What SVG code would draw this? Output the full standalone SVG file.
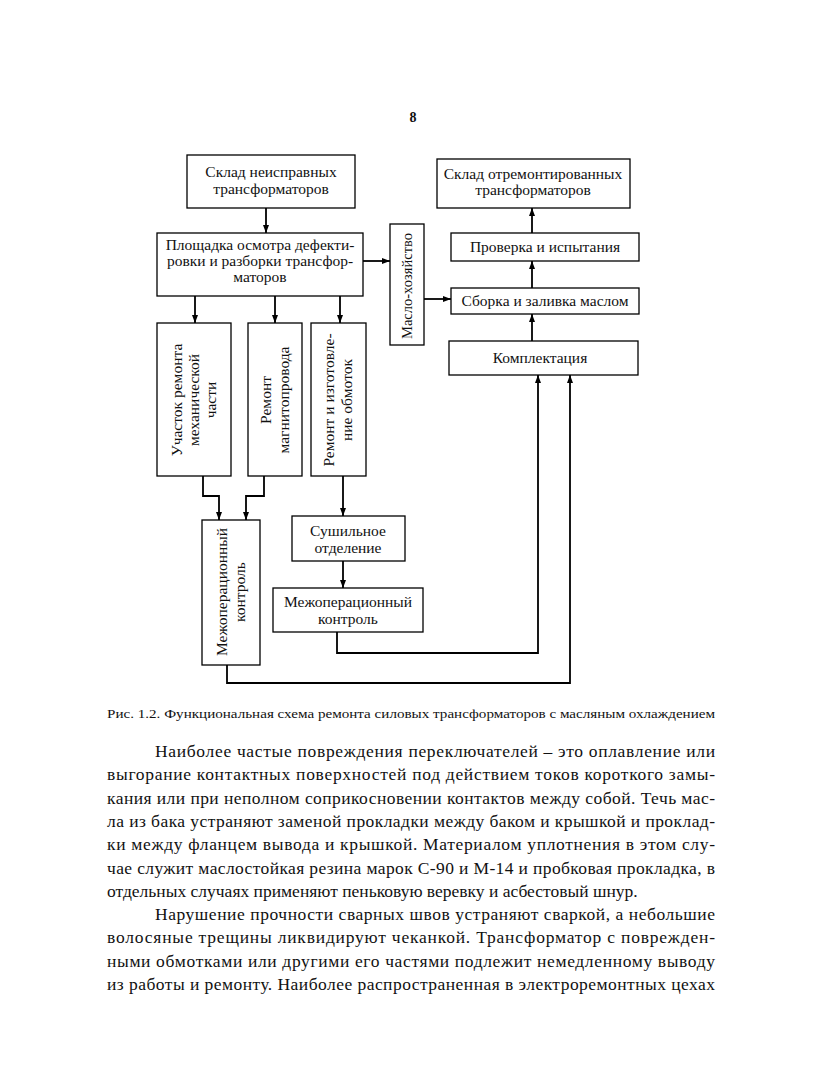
<svg xmlns="http://www.w3.org/2000/svg" width="825" height="1080" viewBox="0 0 825 1080">
<style>
.box{fill:#fff;stroke:#000;stroke-width:1.3}
.t{font-family:"Liberation Serif","Times New Roman",serif;font-size:15.5px;fill:#111;text-anchor:middle}
.c{fill:none;stroke:#000;stroke-width:1.8}
.body{font-family:"Liberation Serif","Times New Roman",serif;font-size:17.5px;fill:#111}
.cap{font-family:"Liberation Serif","Times New Roman",serif;font-size:13px;fill:#111}
</style>
<defs>
<marker id="ah" markerUnits="userSpaceOnUse" markerWidth="8" markerHeight="6" refX="8" refY="3" orient="auto">
<path d="M0,0 L8,3 L0,6 z" fill="#000"/>
</marker>
</defs>
<rect width="825" height="1080" fill="#fff"/>
<text x="413" y="122" class="t" style="font-weight:bold;font-size:14px">8</text>

<g id="connectors">
<path class="c" d="M266,208 V233" marker-end="url(#ah)"/>
<path class="c" d="M363,261 H390" marker-end="url(#ah)"/>
<path class="c" d="M424,299 H451" marker-end="url(#ah)"/>
<path class="c" d="M532,288 V261" marker-end="url(#ah)"/>
<path class="c" d="M532,233 V208" marker-end="url(#ah)"/>
<path class="c" d="M532,341 V314" marker-end="url(#ah)"/>
<path class="c" d="M195,296 V323" marker-end="url(#ah)"/>
<path class="c" d="M275,296 V323" marker-end="url(#ah)"/>
<path class="c" d="M340,296 V323" marker-end="url(#ah)"/>
<path class="c" d="M203,476 V496 H219 V520" marker-end="url(#ah)"/>
<path class="c" d="M264,476 V496 H246 V520" marker-end="url(#ah)"/>
<path class="c" d="M343,476 V516" marker-end="url(#ah)"/>
<path class="c" d="M343,561 V588" marker-end="url(#ah)"/>
<path class="c" d="M337,632 V653 H538 V375" marker-end="url(#ah)"/>
<path class="c" d="M227,665 V683 H570 V375" marker-end="url(#ah)"/>
</g>

<g id="sklad-neispr">
<rect class="box" x="187" y="155" width="168" height="53"/>
<text class="t" x="271" y="177">Склад неисправных</text>
<text class="t" x="271" y="194">трансформаторов</text>
</g>

<g id="ploshchadka">
<rect class="box" x="157" y="233" width="206" height="63"/>
<text class="t" x="260" y="250">Площадка осмотра дефекти-</text>
<text class="t" x="260" y="266">ровки и разборки трансфор-</text>
<text class="t" x="260" y="282">маторов</text>
</g>

<g id="maslo">
<rect class="box" x="390" y="224" width="34" height="121"/>
<text class="t" transform="translate(407,286) rotate(-90)" x="0" y="5" style="font-size:14.5px">Масло-хозяйство</text>
</g>

<g id="sklad-otrem">
<rect class="box" x="437" y="159" width="193" height="49"/>
<text class="t" x="533" y="179">Склад отремонтированных</text>
<text class="t" x="533" y="195">трансформаторов</text>
</g>

<g id="proverka">
<rect class="box" x="451" y="233" width="188" height="28"/>
<text class="t" x="545" y="252">Проверка и испытания</text>
</g>

<g id="sborka">
<rect class="box" x="451" y="288" width="188" height="26"/>
<text class="t" x="545" y="306">Сборка и заливка маслом</text>
</g>

<g id="komplektaciya">
<rect class="box" x="449" y="341" width="189" height="34"/>
<text class="t" x="540" y="363">Комплектация</text>
</g>

<g id="uchastok">
<rect class="box" x="157" y="323" width="74" height="153"/>
<g transform="translate(194,400) rotate(-90)">
<text class="t" x="0" y="-12">Участок ремонта</text>
<text class="t" x="0" y="5">механической</text>
<text class="t" x="0" y="22">части</text>
</g>
</g>

<g id="magnitoprovod">
<rect class="box" x="248" y="323" width="54" height="153"/>
<g transform="translate(275,400) rotate(-90)">
<text class="t" x="0" y="-4">Ремонт</text>
<text class="t" x="0" y="14">магнитопровода</text>
</g>
</g>

<g id="obmotki">
<rect class="box" x="311" y="323" width="55" height="153"/>
<g transform="translate(338,400) rotate(-90)">
<text class="t" x="0" y="-4">Ремонт и изготовле-</text>
<text class="t" x="0" y="14">ние обмоток</text>
</g>
</g>

<g id="mezhop-v">
<rect class="box" x="202" y="520" width="58" height="145"/>
<g transform="translate(231,592) rotate(-90)">
<text class="t" x="0" y="-4">Межоперационный</text>
<text class="t" x="0" y="14">контроль</text>
</g>
</g>

<g id="sushilnoe">
<rect class="box" x="292" y="516" width="113" height="45"/>
<text class="t" x="348" y="536">Сушильное</text>
<text class="t" x="348" y="553">отделение</text>
</g>

<g id="mezhop-h">
<rect class="box" x="273" y="588" width="150" height="44"/>
<text class="t" x="348" y="607">Межоперационный</text>
<text class="t" x="348" y="624">контроль</text>
</g>

<text class="cap" x="107" y="718" textLength="608" lengthAdjust="spacingAndGlyphs">Рис. 1.2. Функциональная схема ремонта силовых трансформаторов с масляным охлаждением</text>

<g class="body">
<text x="155" y="757" textLength="560" lengthAdjust="spacing">Наиболее частые повреждения переключателей – это оплавление или</text>
<text x="107" y="780" textLength="608" lengthAdjust="spacing">выгорание контактных поверхностей под действием токов короткого замы-</text>
<text x="107" y="804" textLength="608" lengthAdjust="spacing">кания или при неполном соприкосновении контактов между собой. Течь мас-</text>
<text x="107" y="827" textLength="608" lengthAdjust="spacing">ла из бака устраняют заменой прокладки между баком и крышкой и проклад-</text>
<text x="107" y="850" textLength="608" lengthAdjust="spacing">ки между фланцем вывода и крышкой. Материалом уплотнения в этом слу-</text>
<text x="107" y="874" textLength="608" lengthAdjust="spacing">чае служит маслостойкая резина марок С-90 и М-14 и пробковая прокладка, в</text>
<text x="107" y="897">отдельных случаях применяют пеньковую веревку и асбестовый шнур.</text>
<text x="155" y="920" textLength="560" lengthAdjust="spacing">Нарушение прочности сварных швов устраняют сваркой, а небольшие</text>
<text x="107" y="943" textLength="608" lengthAdjust="spacing">волосяные трещины ликвидируют чеканкой. Трансформатор с поврежден-</text>
<text x="107" y="967" textLength="608" lengthAdjust="spacing">ными обмотками или другими его частями подлежит немедленному выводу</text>
<text x="107" y="990" textLength="608" lengthAdjust="spacing">из работы и ремонту. Наиболее распространенная в электроремонтных цехах</text>
</g>
</svg>
